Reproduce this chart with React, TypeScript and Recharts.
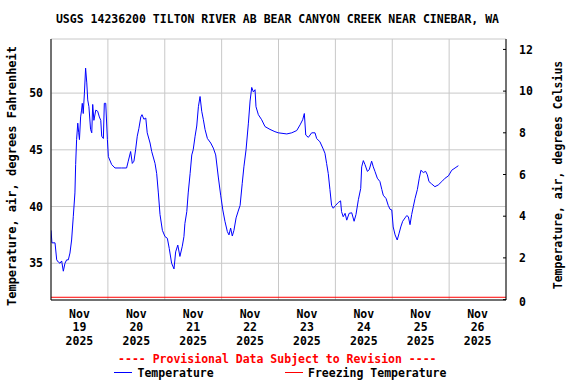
import React from 'react';
import { LineChart, Line, XAxis, YAxis, CartesianGrid, ReferenceLine } from 'recharts';

// hours since Nov 19 2025 00:00
const hours = [
  0.0, 0.4, 1.7, 2.4, 3.1, 3.8, 4.5, 5.2, 5.9, 6.6, 7.3, 8.0, 8.7, 9.4, 10.1, 10.4, 10.8, 11.3, 11.7, 12.0,
  12.5, 12.9, 13.2, 13.6, 14.1, 14.6, 15.1, 15.5, 16.0, 16.7, 17.2, 17.6, 18.1, 18.9, 19.7, 20.4, 21.0, 21.4, 22.1, 22.5,
  23.1, 23.8, 24.2, 25.6, 27.0, 29.8, 31.9, 32.6, 33.6, 34.3, 35.0, 35.7, 36.4, 37.1, 37.9, 38.4, 39.2, 40.0, 40.6, 41.8,
  42.5, 43.9, 44.6, 45.3, 46.0, 47.0, 48.1, 49.1, 49.9, 50.9, 51.9, 52.6, 53.5, 54.4, 55.4, 56.1, 56.5, 57.3, 57.9, 58.7,
  59.4, 60.0, 60.8, 61.5, 62.2, 62.9, 63.6, 64.3, 65.0, 66.0, 67.4, 68.5, 69.5, 70.6, 71.6, 72.5, 73.4, 74.4, 75.1, 75.8,
  76.5, 77.2, 78.1, 79.0, 79.8, 80.7, 81.4, 82.3, 83.3, 84.0, 84.7, 85.4, 86.1, 86.5, 87.5, 88.9, 90.3, 92.4, 94.5, 95.9,
  99.5, 101.6, 103.7, 105.1, 106.2, 106.9, 107.5, 108.6, 110.0, 111.4, 112.1, 113.5, 114.7, 115.6, 116.3, 117.0, 117.7, 118.4, 119.1, 120.1,
  121.2, 122.2, 122.6, 123.3, 124.1, 124.8, 125.8, 126.9, 127.9, 128.7, 129.7, 130.7, 131.1, 131.8, 132.5, 133.5, 134.3, 135.3, 136.0, 136.7,
  137.7, 138.8, 139.6, 140.2, 141.4, 142.3, 143.1, 143.8, 144.4, 145.2, 146.1, 146.9, 147.6, 148.4, 149.4, 150.1, 150.8, 151.5, 152.2, 152.9,
  153.6, 154.6, 155.4, 156.1, 157.1, 158.1, 158.8, 159.5, 160.6, 162.0, 163.4, 164.9, 166.3, 167.7, 169.1, 170.5, 171.9,
];

// air temperature, degrees Fahrenheit
const tempF = [
  37.9, 36.8, 36.8, 35.3, 35.1, 35.0, 35.2, 34.3, 35.0, 35.3, 35.3, 35.9, 37.05, 39.1, 41.2, 43.7, 45.9, 47.35, 46.5, 45.9,
  47.9, 48.5, 49.1, 48.2, 50.0, 52.2, 50.9, 49.4, 48.8, 46.8, 46.5, 49.0, 47.6, 48.5, 48.4, 47.9, 47.6, 46.2, 46.0, 49.1,
  49.1, 45.9, 44.4, 43.7, 43.4, 43.4, 43.4, 44.0, 44.85, 43.8, 44.0, 45.0, 46.2, 46.9, 47.9, 48.1, 47.7, 47.8, 46.5, 45.6,
  44.85, 43.8, 42.9, 41.2, 39.3, 37.9, 37.35, 37.2, 36.3, 35.0, 34.5, 36.0, 36.6, 35.6, 36.5, 37.35, 38.5, 39.55, 41.2, 42.9,
  44.55, 45.0, 46.2, 47.1, 48.8, 49.7, 48.4, 47.65, 46.8, 46.0, 45.6, 45.15, 44.55, 42.6, 41.0, 39.7, 38.7, 37.8, 37.5, 38.1,
  37.4, 37.9, 39.0, 39.6, 40.1, 42.05, 43.5, 45.0, 47.35, 49.3, 50.5, 50.1, 50.3, 48.8, 48.1, 47.65, 47.05, 46.8, 46.6, 46.5,
  46.4, 46.5, 46.7, 47.2, 47.65, 48.2, 46.3, 46.1, 46.5, 46.5, 46.0, 45.7, 45.15, 44.7, 43.8, 42.9, 41.5, 40.1, 39.85, 40.1,
  40.35, 40.5, 39.55, 39.1, 39.4, 38.8, 39.4, 39.45, 38.7, 39.3, 40.6, 41.6, 43.5, 44.05, 43.7, 43.1, 43.25, 44.0, 43.5, 43.1,
  42.5, 42.2, 41.5, 41.0, 40.7, 40.1, 39.75, 39.7, 38.2, 37.5, 37.05, 37.65, 38.2, 38.7, 39.0, 39.2, 39.1, 38.4, 39.3, 40.0,
  40.7, 41.5, 42.5, 43.2, 43.0, 43.1, 42.8, 42.2, 42.0, 41.75, 41.9, 42.2, 42.5, 42.7, 43.2, 43.4, 43.6,
];

const dayTicks = [0, 24, 48, 72, 96, 120, 144, 168, 192];
const dayLabels = ['19', '20', '21', '22', '23', '24', '25', '26'];
const monthLabel = 'Nov';
const yearLabel = '2025';
const leftTicks = [35, 40, 45, 50];
const rightTicks = [0, 2, 4, 6, 8, 10, 12];
const freezingF = 32;

const title = 'USGS 14236200 TILTON RIVER AB BEAR CANYON CREEK NEAR CINEBAR, WA';
const leftLabel = 'Temperature, air, degrees Fahrenheit';
const rightLabel = 'Temperature, air, degrees Celsius';
const provisional = '---- Provisional Data Subject to Revision ----';
const legendNames = ['Temperature', 'Freezing Temperature'];

const data = hours.map((h, i) => ({ h, f: tempF[i] }));

const FONT = '"DejaVu Sans Mono", "Liberation Mono", monospace';
const FS = 11.5;
const HALF_DAY = 455 / 16;

const XTick = (props: any) => {
  const { x, y, payload } = props;
  const i = dayTicks.indexOf(payload.value);
  if (i < 0 || i >= dayLabels.length) return null;
  const cx = x + HALF_DAY;
  const common = { x: cx, textAnchor: 'middle' as const, fontFamily: FONT, fontSize: FS, fontWeight: 'bold' as const, fill: '#000' };
  return (
    <g>
      <text {...common} y={y + 17.5}>{monthLabel}</text>
      <text {...common} y={y + 31}>{dayLabels[i]}</text>
      <text {...common} y={y + 44.5}>{yearLabel}</text>
    </g>
  );
};

const LeftTick = (props: any) => {
  const { x, y, payload } = props;
  return (
    <text x={x} y={y} dy="0.36em" textAnchor="end" fontFamily={FONT} fontSize={FS} fontWeight="bold" fill="#000">
      {payload.value}
    </text>
  );
};

const RightTick = (props: any) => {
  const { x, y, payload } = props;
  return (
    <g>
      <line x1={x - 16} x2={x - 13} y1={y} y2={y} stroke="#000" strokeWidth={1} />
      <text x={x} y={y + (payload.value === 0 ? 2 : 0)} dy="0.36em" textAnchor="start" fontFamily={FONT} fontSize={FS} fontWeight="bold" fill="#000">
        {payload.value}
      </text>
    </g>
  );
};

export default function App() {
  const textStyle = { fontFamily: FONT, fontSize: FS, fontWeight: 'bold' as const };
  return (
    <div style={{ position: 'absolute', left: 0, top: 0, width: 576, height: 384, background: '#fff' }}>
      <LineChart width={576} height={384} data={data} margin={{ top: 39, right: 0, bottom: 0, left: 0 }}>
        <CartesianGrid xAxisId="b" yAxisId="f" stroke="#c8c8c8" strokeWidth={1} />
        <XAxis
          xAxisId="b"
          dataKey="h"
          type="number"
          domain={[0, 192]}
          ticks={dayTicks}
          allowDataOverflow
          height={84}
          tickSize={0}
          tickMargin={0}
          tickLine={false}
          axisLine={{ stroke: '#000', strokeWidth: 1 }}
          tick={<XTick />}
          interval={0}
        />
        <XAxis
          xAxisId="t"
          orientation="top"
          dataKey="h"
          type="number"
          domain={[0, 192]}
          height={0}
          tick={false}
          tickLine={false}
          axisLine={{ stroke: '#000', strokeWidth: 1 }}
        />
        <YAxis
          yAxisId="f"
          orientation="left"
          type="number"
          domain={[31.76, 54.77]}
          ticks={leftTicks}
          allowDataOverflow
          width={51}
          tickSize={0}
          tickMargin={8}
          tickLine={false}
          axisLine={{ stroke: '#000', strokeWidth: 1 }}
          tick={<LeftTick />}
          interval={0}
        />
        <YAxis
          yAxisId="c"
          orientation="right"
          type="number"
          domain={[-0.02, 12.5]}
          ticks={rightTicks}
          allowDataOverflow
          width={70}
          tickSize={0}
          tickMargin={13}
          tickLine={false}
          axisLine={{ stroke: '#000', strokeWidth: 1 }}
          tick={<RightTick />}
          interval={0}
        />
        <ReferenceLine xAxisId="b" yAxisId="f" y={freezingF} stroke="#ff0000" strokeWidth={1} ifOverflow="extendDomain" />
        <Line
          xAxisId="b"
          yAxisId="f"
          type="linear"
          dataKey="f"
          stroke="#0000ff"
          strokeWidth={1}
          dot={false}
          activeDot={false}
          isAnimationActive={false}
        />
      </LineChart>
      <svg width={576} height={384} style={{ position: 'absolute', left: 0, top: 0, pointerEvents: 'none' }}>
        <text x={277.5} y={23} textAnchor="middle" fill="#000" {...textStyle}>{title}</text>
        <text x={0} y={0} transform="translate(16,176) rotate(-90)" textAnchor="middle" fill="#000" {...textStyle} fontSize={12}>{leftLabel}</text>
        <text x={0} y={0} transform="translate(562,175) rotate(-90)" textAnchor="middle" fill="#000" {...textStyle}>{rightLabel}</text>
        <text x={277.3} y={363} textAnchor="middle" fill="#ff0000" {...textStyle}>{provisional}</text>
        <line x1={114} x2={132} y1={372.5} y2={372.5} stroke="#0000ff" strokeWidth={1} />
        <text x={137.5} y={376.5} textAnchor="start" fill="#000" {...textStyle}>{legendNames[0]}</text>
        <line x1={285} x2={303} y1={372.5} y2={372.5} stroke="#ff0000" strokeWidth={1} />
        <text x={308} y={376.5} textAnchor="start" fill="#000" {...textStyle}>{legendNames[1]}</text>
      </svg>
    </div>
  );
}
